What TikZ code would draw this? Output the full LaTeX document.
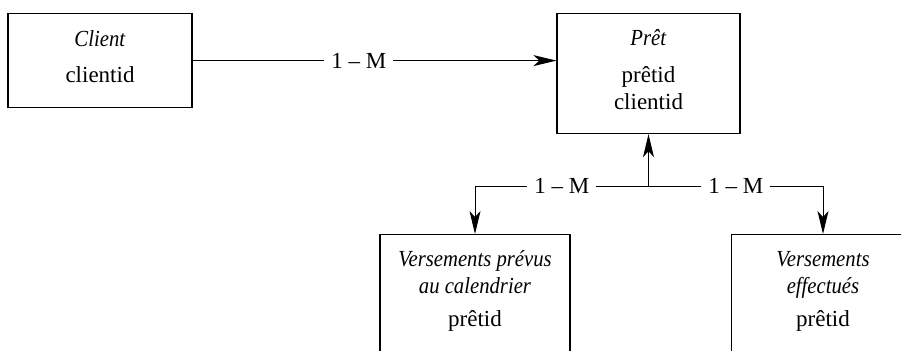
\documentclass[tikz,border=0pt]{standalone}
\usepackage{fontspec}
\setmainfont{Liberation Serif}[ItalicFeatures={FakeStretch=0.9}]
\usetikzlibrary{arrows.meta}

\begin{document}
\begin{tikzpicture}[x=0.5pt, y=-0.5pt,
    font=\fontsize{11.5}{13.8}\selectfont,
    entite/.style={draw, line width=0.6pt, anchor=north, align=center,
        inner xsep=0pt, inner ysep=8pt},
    lien/.style={line width=0.5pt,
        -{Stealth[length=11.5pt, width=5.5pt, inset=3pt]}},
    cardinalite/.style={fill=white, inner xsep=3.5pt, inner ysep=1pt}]
    \useasboundingbox (0,0) rectangle (901,350);
    \clip (0,0) rectangle (901,350);
    \node[entite, minimum width=92pt, text height=26.5pt, text depth=4.5pt]
        (client) at (100,13) {\textit{Client}\\[4.5pt] clientid};
    \node[entite, minimum width=91.5pt, text height=40pt, text depth=4pt]
        (pret) at (648.5,13) {\textit{Prêt}\\[4.5pt] prêtid\\ clientid};
    \node[entite, minimum width=95pt, text height=38pt, text depth=90pt]
        (prevus) at (475,234)
        {\textit{Versements prévus}\\ \textit{au calendrier}\\[2.7pt] prêtid};
    \node[entite, minimum width=91.5pt, text height=38pt, text depth=90pt]
        (effectues) at (823,234)
        {\textit{Versements}\\ \textit{effectués}\\[2.7pt] prêtid};
    \coordinate (jonction) at ([yshift=-26pt]pret.south);
    \draw[lien] (client.east) -- node[cardinalite, pos=0.457] {1 -- M}
        (client.east -| pret.west);
    \draw[lien] (jonction) -- (pret.south);
    \draw[lien] (jonction) -| node[cardinalite, pos=0.25] {1 -- M} (prevus.north);
    \draw[lien] (jonction) -| node[cardinalite, pos=0.25] {1 -- M} (effectues.north);
\end{tikzpicture}
\end{document}
